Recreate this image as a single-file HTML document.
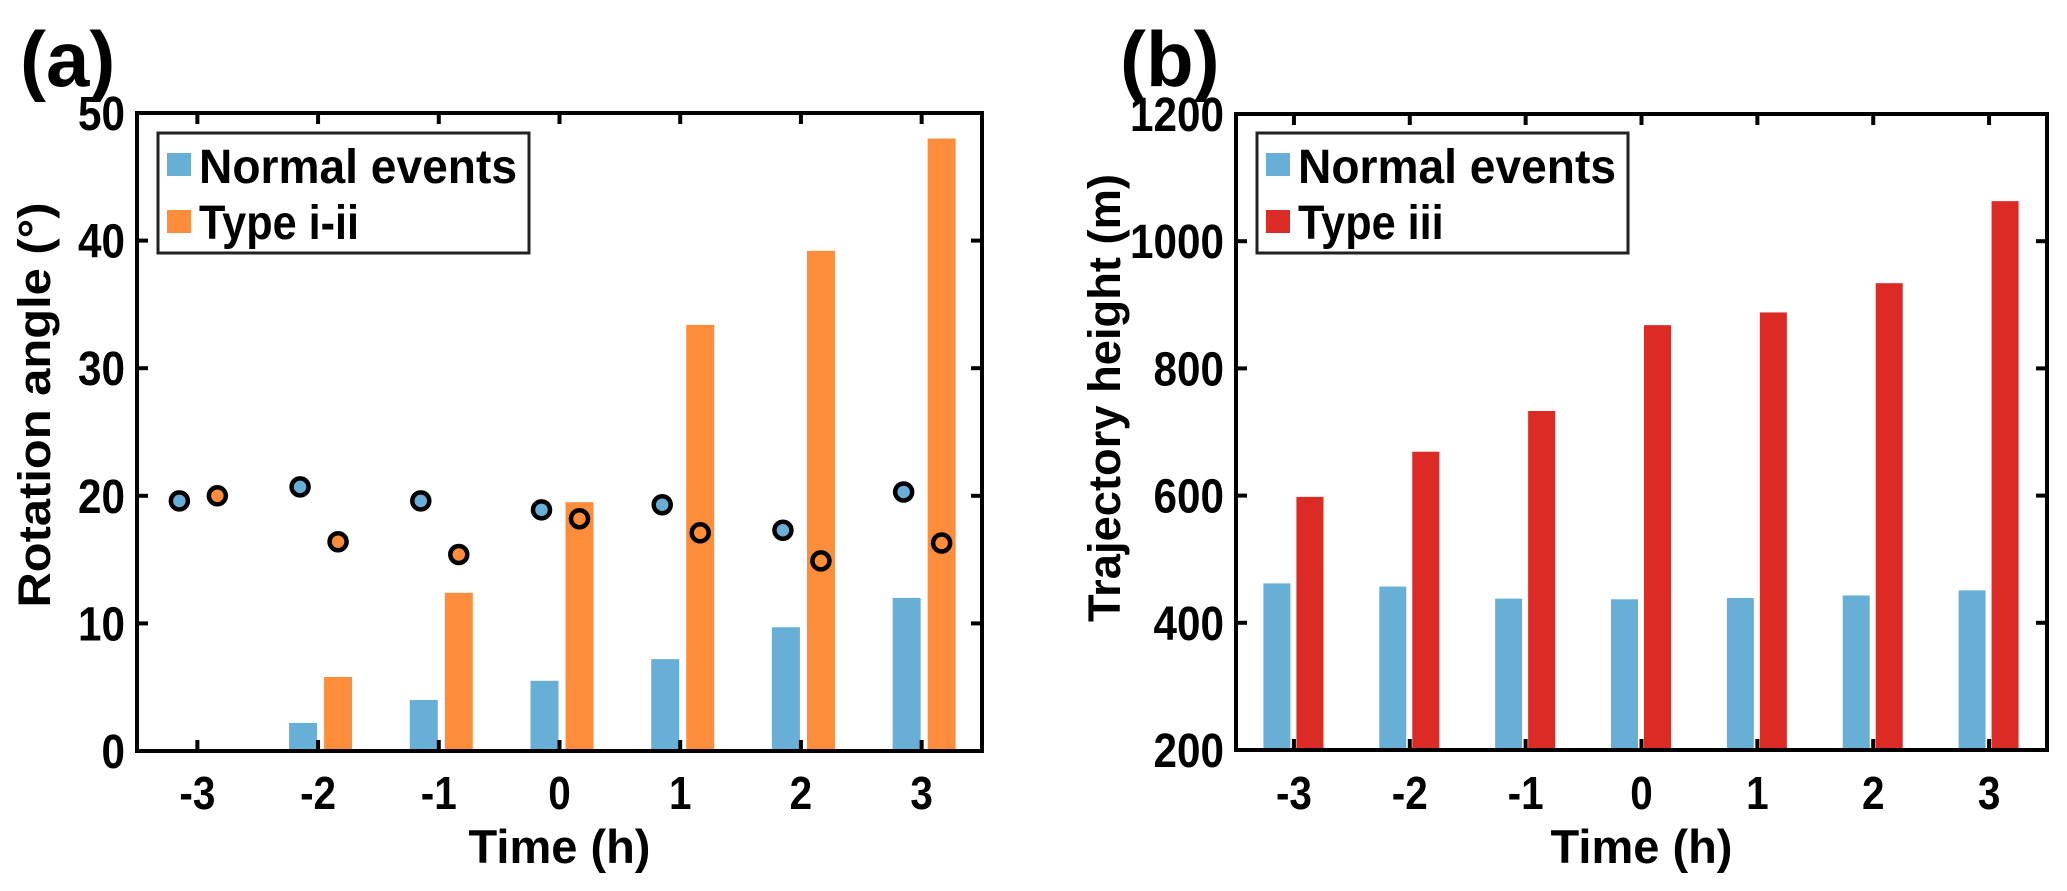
<!DOCTYPE html>
<html><head><meta charset="utf-8"><style>
html,body{margin:0;padding:0;background:#fff;}
svg{display:block;font-family:"Liberation Sans",Arial,sans-serif;font-weight:bold;}
</style></head><body>
<svg id="fig" width="2067" height="891" viewBox="0 0 2067 891" xmlns="http://www.w3.org/2000/svg">
<text x="20" y="86" font-size="78">(a)</text>
<text x="1120" y="86" font-size="78">(b)</text>
<g id="pa"></g>
<g id="pb"></g>
</svg>
<script>
const categories = ["-3","-2","-1","0","1","2","3"];
// Panel (a)
const aNormalBars = [0, 2.2, 4.0, 5.5, 7.2, 9.7, 12.0];
const aTypeBars = [0, 5.8, 12.4, 19.5, 33.4, 39.2, 48.0];
const aNormalDots = [19.6, 20.7, 19.6, 18.9, 19.3, 17.3, 20.3];
const aTypeDots = [20.0, 16.4, 15.4, 18.2, 17.1, 14.9, 16.3];
const aYTicks = [0, 10, 20, 30, 40, 50];
// Panel (b)
const bNormalBars = [462, 457, 438, 437, 439, 443, 451];
const bTypeBars = [598, 669, 733, 868, 888, 934, 1063];
const bYTicks = [200, 400, 600, 800, 1000, 1200];

const NS = "http://www.w3.org/2000/svg";
function mk(parent, tag, attrs, text) {
  const e = document.createElementNS(NS, tag);
  for (const k in attrs) e.setAttribute(k, attrs[k]);
  if (text !== undefined) e.textContent = text;
  parent.appendChild(e);
  return e;
}
const BLUE = "#68AFD7", ORANGE = "#FD8C3B", RED = "#DC2A25";

function panel(g, o) {
  const L = o.L, R = o.R, T = o.T, B = o.B;
  const y = v => B - (v - o.ymin) / (o.ymax - o.ymin) * (B - T);
  const bw = (R - L) / categories.length;
  const x = i => L + (i + 0.5) * bw + o.shift;
  categories.forEach((c, i) => {
    const v1 = o.s1[i], v2 = o.s2[i];
    if (v1 > o.ymin) {
      const r = mk(g, "rect", {x: x(i) + o.off1 - o.w / 2, y: y(v1), width: o.w, height: y(o.ymin) - y(v1), fill: BLUE});
      
      
    }
    if (v2 > o.ymin) {
      const r = mk(g, "rect", {x: x(i) + o.off2 - o.w / 2, y: y(v2), width: o.w, height: y(o.ymin) - y(v2), fill: o.c2});
      
      
    }
  });
  if (o.d1) {
    categories.forEach((c, i) => {
      const a = mk(g, "circle", {cx: x(i) + o.off1 - 3, cy: y(o.d1[i]), r: 8.5, fill: BLUE, stroke: "#000", "stroke-width": 4.5});
      
      
      const b = mk(g, "circle", {cx: x(i) + o.off2, cy: y(o.d2[i]), r: 8.5, fill: o.c2, stroke: "#000", "stroke-width": 4.5});
      
      
    });
  }
  const box = mk(g, "rect", {x: L, y: T, width: R - L, height: B - T, fill: "none", stroke: "#000", "stroke-width": 4});
  
  
  o.yt.forEach(t => {
    const yy = y(t);
    mk(g, "line", {x1: L, x2: L + 11, y1: yy, y2: yy, stroke: "#000", "stroke-width": 4});
    mk(g, "line", {x1: R, x2: R - 11, y1: yy, y2: yy, stroke: "#000", "stroke-width": 4});
    const tl = mk(g, "text", {x: 0, y: 0, "font-size": 48, "text-anchor": "end", transform: `translate(${L - 12},${yy + 17}) scale(0.88,1)`}, String(t));
    
    
  });
  categories.forEach((c, i) => {
    const xx = L + (i + 0.5) * bw;
    mk(g, "line", {x1: xx, x2: xx, y1: B, y2: B - 11, stroke: "#000", "stroke-width": 4});
    mk(g, "line", {x1: xx, x2: xx, y1: T, y2: T + 11, stroke: "#000", "stroke-width": 4});
    const tl = mk(g, "text", {x: 0, y: 0, "font-size": 46, "text-anchor": "middle", transform: `translate(${xx},809) scale(0.88,1)`}, c);
    
    
  });
  const xt = mk(g, "text", {x: (L + R) / 2, y: 863, "font-size": 47, "text-anchor": "middle"}, "Time (h)");
  
  
  const yt = mk(g, "text", {x: 0, y: 0, "font-size": 45, "text-anchor": "middle", textLength: o.ytLen, lengthAdjust: "spacingAndGlyphs", transform: `translate(${o.ytX},${o.ytY}) rotate(-90)`}, o.ytitle);
  
  
  const lg = mk(g, "g", {});
  
  
  const lx = L + 21;
  mk(lg, "rect", {x: lx, y: 133, width: o.lw, height: 120, fill: "#fff", stroke: "#222", "stroke-width": 3});
  mk(lg, "rect", {x: lx + 9, y: 153, width: 24, height: 23, fill: BLUE});
  mk(lg, "rect", {x: lx + 9, y: 210, width: 24, height: 23, fill: o.c2});
  const t1 = mk(lg, "text", {x: lx + 41, y: 183, "font-size": 48, textLength: 318, lengthAdjust: "spacingAndGlyphs"}, "Normal events");
  
  
  const t2 = mk(lg, "text", {x: 0, y: 0, "font-size": 48, transform: `translate(${lx + 41},239) scale(0.9,1)`}, o.label2);
  
  
}

panel(document.getElementById("pa"), {L: 137, R: 982, T: 113, B: 751, ymin: 0, ymax: 50, shift: 2,
  s1: aNormalBars, s2: aTypeBars, d1: aNormalDots, d2: aTypeDots, w: 28, off1: -17, off2: 18,
  c2: ORANGE, name2: "type-i-ii", label2: "Type i-ii", yt: aYTicks,
  ytitle: "Rotation angle (°)", ytLen: 405, ytX: 50, ytY: 405, lw: 371});
panel(document.getElementById("pb"), {L: 1236, R: 2047, T: 114, B: 750, ymin: 200, ymax: 1200, shift: 0,
  s1: bNormalBars, s2: bTypeBars, w: 27, off1: -17, off2: 16,
  c2: RED, name2: "type-iii", label2: "Type iii", yt: bYTicks,
  ytitle: "Trajectory height (m)", ytLen: 448, ytX: 1120, ytY: 398, lw: 371});
</script>
</body></html>
